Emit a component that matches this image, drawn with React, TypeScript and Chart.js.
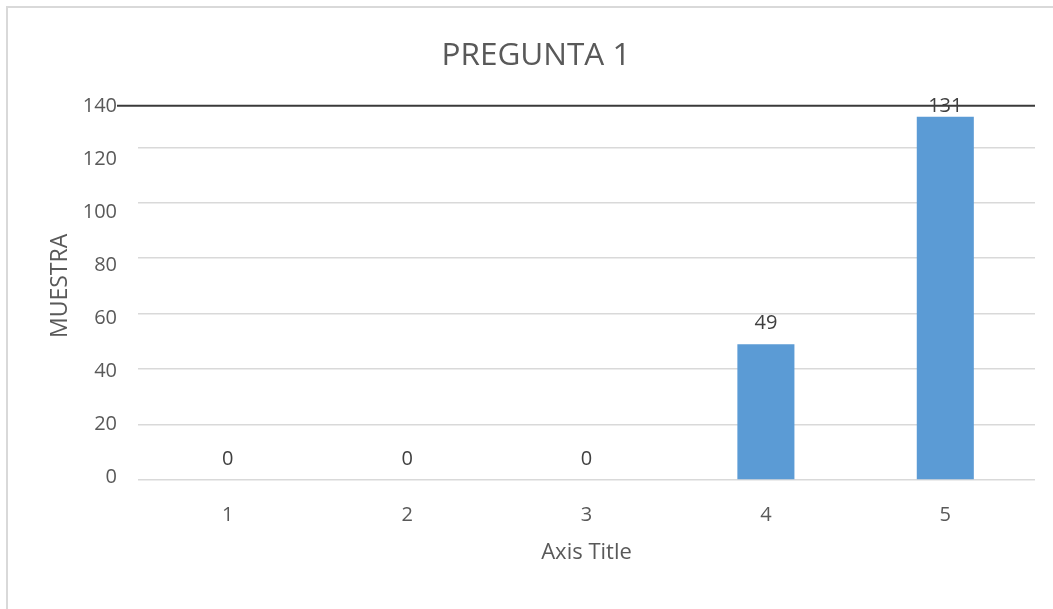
import React, { useEffect, useRef } from "react";
import { Chart, registerables } from "chart.js";

Chart.register(...registerables);

// ---- data ----
const categories: string[] = ["1", "2", "3", "4", "5"];
const muestra: number[] = [0, 0, 0, 49, 131];
const yMin = 0;
const yMax = 140;
const yStep = 20;
const yTickValues: number[] = [0, 20, 40, 60, 80, 100, 120, 140];
const topRuleValue = 135;
// the reference's tick labels sit on a slightly different span than its gridlines
const labelAxisMin = -1.0;
const labelAxisMax = 145.3;

const chartTitle = "PREGUNTA 1";
const xTitle = "Axis Title";
const yTitle = "MUESTRA";

const FONT = "'Open Sans', 'DejaVu Sans', sans-serif";
const TEXT = "#595959";
const LABEL = "#404040";
const GRID = "#d9d9d9";
const BAR = "#5b9bd5";

export default function App() {
  const ref = useRef<HTMLCanvasElement>(null);

  useEffect(() => {
    const canvas = ref.current;
    if (!canvas) return;

    const topRule = {
      id: "topRule",
      beforeDatasetsDraw(chart: any) {
        const { ctx, chartArea } = chart;
        const y = chart.scales.y;
        const yl = chart.scales.yLabels;
        const py = y.getPixelForValue(topRuleValue);
        const x0 = yl.right - yl.options.ticks.padding;
        ctx.save();
        ctx.strokeStyle = "#3a3a3a";
        ctx.lineWidth = 2;
        ctx.beginPath();
        ctx.moveTo(x0, py);
        ctx.lineTo(chartArea.right, py);
        ctx.stroke();
        ctx.restore();
      },
    };

    const valueLabels = {
      id: "valueLabels",
      afterDatasetsDraw(chart: any) {
        const { ctx } = chart;
        const meta = chart.getDatasetMeta(0);
        const ruleY = chart.scales.y.getPixelForValue(topRuleValue);
        ctx.save();
        ctx.font = `20px ${FONT}`;
        ctx.fillStyle = LABEL;
        ctx.textAlign = "center";
        ctx.textBaseline = "middle";
        meta.data.forEach((bar: any, i: number) => {
          const cy = Math.max(bar.y - 21, ruleY + 1);
          ctx.fillText(String(muestra[i]), bar.x, cy);
        });
        ctx.restore();
      },
    };

    const chart = new Chart(canvas, {
      type: "bar",
      data: {
        labels: categories,
        datasets: [
          {
            label: yTitle,
            data: muestra,
            backgroundColor: BAR,
            borderWidth: 0,
            barPercentage: 0.318,
            categoryPercentage: 1,
            yAxisID: "y",
          },
        ],
      },
      options: {
        responsive: false,
        animation: false,
        layout: { padding: { left: 37, right: 56, top: 0, bottom: 42.8 } },
        plugins: {
          legend: { display: false },
          tooltip: { enabled: false },
          title: {
            display: true,
            text: chartTitle,
            color: TEXT,
            font: { family: FONT, size: 31.5, weight: "normal" },
            padding: { top: 37, bottom: 17 },
          },
        },
        scales: {
          x: {
            grid: { display: false },
            border: { display: false },
            ticks: { color: TEXT, font: { family: FONT, size: 20 }, padding: 15 },
            title: {
              display: true,
              text: xTitle,
              color: TEXT,
              font: { family: FONT, size: 22 },
              padding: { top: -2.2, bottom: 0 },
            },
          },
          y: {
            position: "left",
            min: yMin,
            max: yMax,
            border: { display: false },
            grid: {
              drawTicks: false,
              lineWidth: 1.5,
              color: (c: any) => (c.tick && c.tick.value === yMax ? "rgba(0,0,0,0)" : GRID),
            },
            ticks: { display: false, stepSize: yStep },
          },
          yLabels: {
            position: "left",
            min: labelAxisMin,
            max: labelAxisMax,
            border: { display: false },
            grid: { display: false, drawTicks: false },
            afterBuildTicks: (scale: any) => {
              scale.ticks = yTickValues.map((v) => ({ value: v }));
            },
            ticks: { color: TEXT, font: { family: FONT, size: 20 }, padding: 21 },
            title: {
              display: true,
              text: yTitle,
              color: TEXT,
              font: { family: FONT, size: 23 },
              padding: { top: 9.2, bottom: -12.1 },
            },
          },
        },
      },
      plugins: [topRule, valueLabels],
    } as any);

    return () => chart.destroy();
  }, []);

  return (
    <>
      <div
        style={{
          position: "fixed",
          left: 6,
          top: 6,
          width: 2000,
          height: 2000,
          borderLeft: "2px solid #d9d9d9",
          borderTop: "2px solid #d9d9d9",
        }}
      />
      <canvas
        ref={ref}
        width={1091}
        height={609}
        style={{ position: "fixed", left: 0, top: 0, width: 1091, height: 609 }}
      />
    </>
  );
}
